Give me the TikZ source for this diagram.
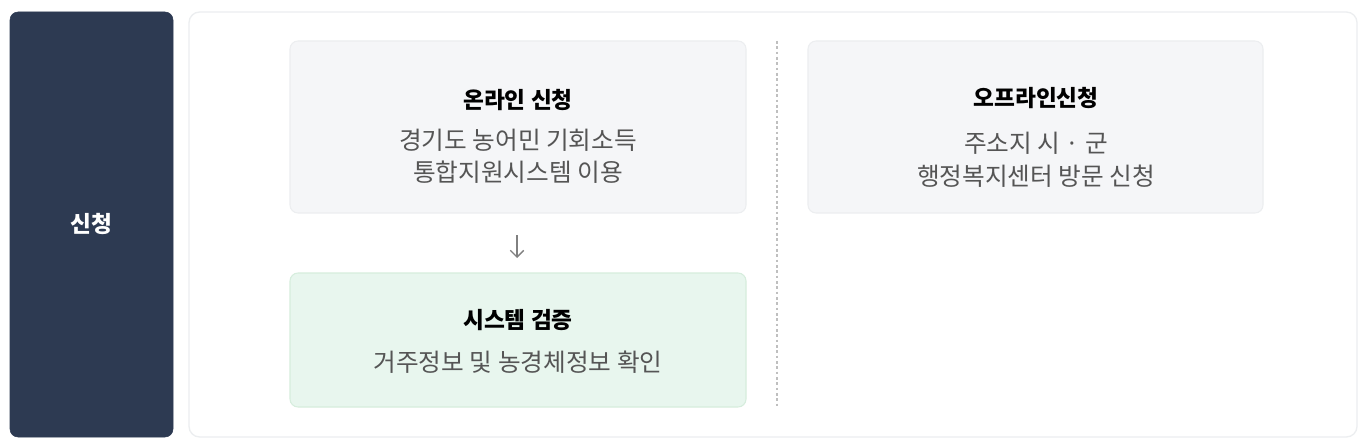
\documentclass[tikz,border=0pt]{standalone}
\usepackage{fontspec}
\setmainfont{Noto Sans CJK KR}
\usetikzlibrary{arrows.meta}
\definecolor{navy}{HTML}{2D3A52}
\definecolor{boxg}{HTML}{F5F6F8}
\definecolor{boxgb}{HTML}{ECEEF0}
\definecolor{boxgr}{HTML}{E8F6EE}
\definecolor{boxgrb}{HTML}{D6EDDD}
\definecolor{txt}{HTML}{555555}
\tikzset{
 card/.style={draw=boxgb,fill=boxg,rounded corners=6pt,line width=0.8pt},
 ttl/.style={font=\fontsize{17}{20}\selectfont\bfseries,text=black},
 bdy/.style={font=\fontsize{18.5}{24}\selectfont,text=txt,align=center}
}
\begin{document}
\begin{tikzpicture}[x=0.75pt,y=-0.75pt]
\useasboundingbox (0,0) rectangle (1360,442);
\fill[white] (0,0) rectangle (1360,442);
\draw[navy,fill=navy,rounded corners=6pt] (10,12) rectangle (173,437);
\node[font=\fontsize{17}{20}\selectfont\bfseries,text=white] (lbl) at (91,224) {신청};
\draw[boxgb,fill=white,rounded corners=8pt,line width=1pt] (189,12) rectangle (1357,437);
\draw[card] (290,41) rectangle (746,213);
\node[ttl] (t1) at (518,100) {온라인 신청};
\node[bdy] (b1) at (518,140) {경기도 농어민 기회소득};
\node[bdy] (b1b) at (518,172) {통합지원시스템 이용};
\draw[card] (808,41) rectangle (1263,213);
\node[ttl] (t2) at (1036,98) {오프라인신청};
\node[bdy] (b2) at (1036,143) {주소지 시 · 군};
\node[bdy] (b2b) at (1036,176) {행정복지센터 방문 신청};
\draw[card,draw=boxgrb,fill=boxgr] (290,273) rectangle (746,407);
\node[ttl] (t3) at (518,320) {시스템 검증};
\node[bdy] (b3) at (518,362) {거주정보 및 농경체정보 확인};
\coordinate (a1) at (517,235);
\coordinate (a2) at (517,258);
\draw[gray,line width=1pt,-{Straight Barb[length=5pt,width=10pt]}] (a1) -- (a2);
\coordinate (d1) at (777,41);
\coordinate (d2) at (777,407);
\draw[gray!50,dash pattern=on 2pt off 2pt,line width=0.8pt] (d1) -- (d2);
\end{tikzpicture}
\end{document}
